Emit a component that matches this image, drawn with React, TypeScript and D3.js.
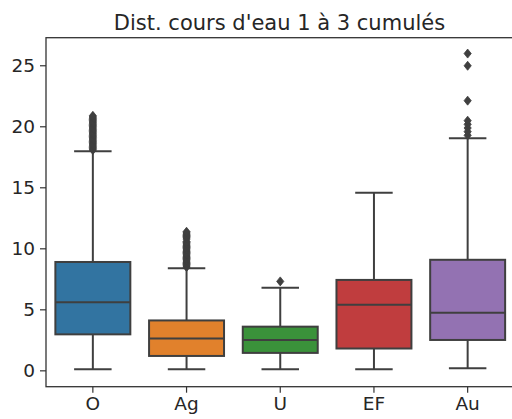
import React from "react";
import * as d3 from "d3";

const title = "Dist. cours d'eau 1 à 3 cumulés";
const categories = ["O", "Ag", "U", "EF", "Au"];
const colors = ["#3274a1", "#e1812c", "#3a923a", "#c03d3e", "#9372b2"];
const q1 = [2.99, 1.22, 1.47, 1.83, 2.53];
const median = [5.62, 2.66, 2.53, 5.41, 4.76];
const q3 = [8.92, 4.13, 3.62, 7.45, 9.1];
const whiskerLow = [0.14, 0.14, 0.14, 0.14, 0.22];
const whiskerHigh = [17.99, 8.4, 6.8, 14.59, 19.07];
const outliersO = [18.1, 18.2, 18.3, 18.4, 18.5, 18.6, 18.7, 18.8, 18.9, 19.0, 19.1, 19.2, 19.3, 19.4, 19.5, 19.6, 19.7, 19.8, 19.9, 20.0, 20.1, 20.2, 20.3, 20.4, 20.5, 20.6, 20.7, 20.8, 20.9];
const outliersAg = [8.5, 8.6, 8.7, 8.8, 8.9, 9.0, 9.1, 9.2, 9.3, 9.4, 9.5, 9.6, 9.7, 9.8, 9.9, 10.0, 10.1, 10.2, 10.3, 10.4, 10.5, 10.6, 10.8, 10.9, 11.0, 11.1, 11.2, 11.3, 11.4];
const outliersU = [7.33];
const outliersEF: number[] = [];
const outliersAu = [19.3, 19.6, 19.9, 20.2, 20.5, 22.14, 25.0, 26.0];
const outliers = [outliersO, outliersAg, outliersU, outliersEF, outliersAu];
const yTicks = [0, 5, 10, 15, 20, 25];

const W = 512, H = 419;
const left = 46, right = 514.5, top = 37.7, bottom = 386.7;
const font = "DejaVu Sans";
const lineColor = "#3f3f3f";
const tickFont = 18.5;

export default function App() {
  const y = d3.scaleLinear().domain([-1.3, 27.3]).range([bottom, top]);
  const x = d3.scaleBand().domain(categories).range([left, right]).paddingInner(0).paddingOuter(0);
  const bw = x.bandwidth() * 0.8;
  const diamond = (cx: number, cy: number) => `M${cx},${cy - 4.5}L${cx + 3.6},${cy}L${cx},${cy + 4.5}L${cx - 3.6},${cy}Z`;
  return (
    <svg width={W} height={H} style={{ position: "absolute", left: 0, top: 0, background: "#fff" }}>
      <text x={279.5} y={29.5} textAnchor="middle" fontFamily={font} fontSize={21} fill="#262626">{title}</text>
      {categories.map((c, i) => {
        const cx = x(c)! + x.bandwidth() / 2;
        const x0 = cx - bw / 2;
        const capW = bw / 2;
        return (
          <g key={c}>
            <line x1={cx} x2={cx} y1={y(whiskerLow[i])} y2={y(q1[i])} stroke={lineColor} strokeWidth={2} />
            <line x1={cx} x2={cx} y1={y(q3[i])} y2={y(whiskerHigh[i])} stroke={lineColor} strokeWidth={2} />
            <line x1={cx - capW / 2} x2={cx + capW / 2} y1={y(whiskerLow[i])} y2={y(whiskerLow[i])} stroke={lineColor} strokeWidth={2} />
            <line x1={cx - capW / 2} x2={cx + capW / 2} y1={y(whiskerHigh[i])} y2={y(whiskerHigh[i])} stroke={lineColor} strokeWidth={2} />
            <rect x={x0} y={y(q3[i])} width={bw} height={y(q1[i]) - y(q3[i])} fill={colors[i]} stroke={lineColor} strokeWidth={2} />
            <line x1={x0} x2={x0 + bw} y1={y(median[i])} y2={y(median[i])} stroke={lineColor} strokeWidth={2} />
            {outliers[i].map((v, j) => (
              <path key={j} d={diamond(cx, y(v))} fill={lineColor} stroke={lineColor} strokeWidth={0.8} />
            ))}
            <line x1={cx} x2={cx} y1={bottom} y2={bottom + 6} stroke="#333" strokeWidth={1.2} />
            <text x={cx} y={bottom + 23.5} textAnchor="middle" fontFamily={font} fontSize={tickFont} fill="#262626">{c}</text>
          </g>
        );
      })}
      {yTicks.map((t) => (
        <g key={t}>
          <line x1={left - 6} x2={left} y1={y(t)} y2={y(t)} stroke="#333" strokeWidth={1.2} />
          <text x={left - 11} y={y(t)} dy="0.36em" textAnchor="end" fontFamily={font} fontSize={tickFont} fill="#262626">{t}</text>
        </g>
      ))}
      <rect x={left} y={top} width={right - left} height={bottom - top} fill="none" stroke="#333" strokeWidth={1.3} />
    </svg>
  );
}
